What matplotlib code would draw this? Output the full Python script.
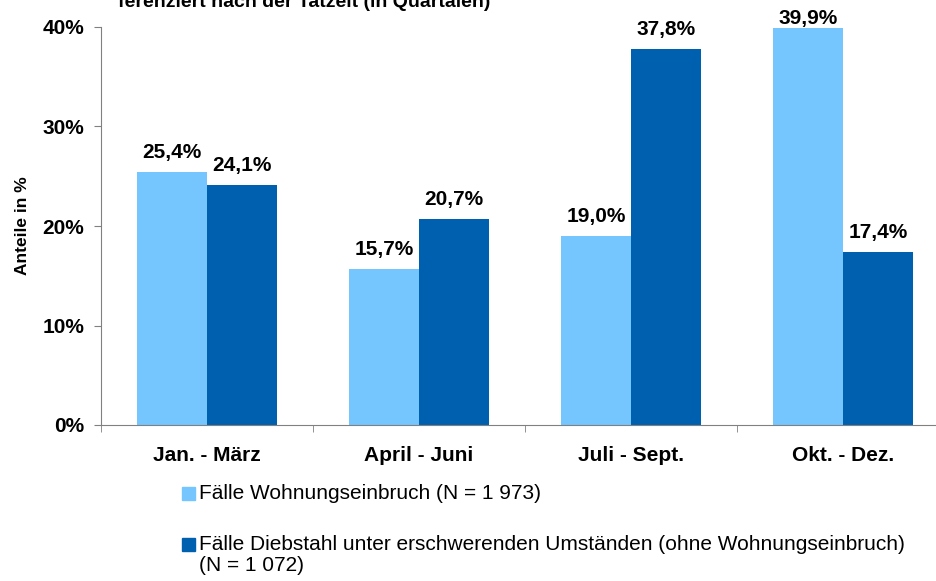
import matplotlib
matplotlib.use("Agg")
import matplotlib.pyplot as plt
import numpy as np
from matplotlib.patches import Rectangle

plt.rcParams['font.family'] = ['Liberation Sans', 'DejaVu Sans']

categories = ["Jan. - März", "April - Juni", "Juli - Sept.", "Okt. - Dez."]
wohnungseinbruch = [25.4, 15.7, 19.0, 39.9]
diebstahl = [24.1, 20.7, 37.8, 17.4]
value_labels_1 = ["25,4%", "15,7%", "19,0%", "39,9%"]
value_labels_2 = ["24,1%", "20,7%", "37,8%", "17,4%"]
series_names = ["Fälle Wohnungseinbruch (N = 1 973)",
                "Fälle Diebstahl unter erschwerenden Umständen (ohne Wohnungseinbruch)\n(N = 1 072)"]
yticks = [0, 10, 20, 30, 40]
ytick_labels = ["0%", "10%", "20%", "30%", "40%"]
title = "ferenziert nach der Tatzeit (in Quartalen)"

light = "#75C5FF"
dark = "#0060B0"
colors = [light, dark]

W, H = 936, 581
fig = plt.figure(figsize=(W/100, H/100), dpi=100)
ax = fig.add_axes([101/W, 156/H, 848/W, 398/H])

x = np.arange(len(categories))
w = 0.33
b1 = ax.bar(x - w/2, wohnungseinbruch, w, color=light)
b2 = ax.bar(x + w/2, diebstahl, w, color=dark)

for bars, labels in ((b1, value_labels_1), (b2, value_labels_2)):
    for rect, lab in zip(bars, labels):
        h = rect.get_height()
        off = 10 if h < 39 else 3
        ax.annotate(lab, (rect.get_x() + rect.get_width()/2, h),
                    xytext=(0, off), textcoords="offset points", ha="center", va="baseline",
                    fontsize=15, fontweight="bold", annotation_clip=False)

ax.set_xlim(-0.5, 3.5)
ax.set_ylim(0, 40)
ax.set_yticks(yticks)
ax.set_yticklabels(ytick_labels, fontsize=15, fontweight="bold")
ax.set_xticks(x)
ax.set_xticklabels(categories, fontsize=15, fontweight="bold")
ax.tick_params(axis="x", which="major", length=0, pad=15)
ax.set_xticks(np.arange(-0.5, 4.0, 1.0), minor=True)
ax.tick_params(axis="x", which="minor", length=5, color="#808080", direction="out")
ax.tick_params(axis="y", length=5, color="#808080", direction="out", pad=7)
for s in ("top", "right"):
    ax.spines[s].set_visible(False)
for s in ("left", "bottom"):
    ax.spines[s].set_color("#808080")
ax.set_ylabel("Anteile in %", fontsize=12.5, fontweight="bold")
ax.yaxis.set_label_coords((30 - 101)/848, 0.5)

fig.text(118/W, 1 - 7/H, title, fontsize=14, fontweight="bold", va="baseline", ha="left")

# legend (manual, handle aligned to first text line)
legend_rows = [(487, 497), (538, 548)]
for (top, cy), name, c in zip(legend_rows, series_names, colors):
    fig.patches.append(Rectangle((182/W, 1 - (top + 13)/H), 13/W, 13/H,
                                 transform=fig.transFigure, color=c, figure=fig))
    fig.text(199/W, 1 - (cy - 13)/H, name, fontsize=15, va="top", ha="left",
             linespacing=1.12)

fig.savefig("out.png", dpi=100)
